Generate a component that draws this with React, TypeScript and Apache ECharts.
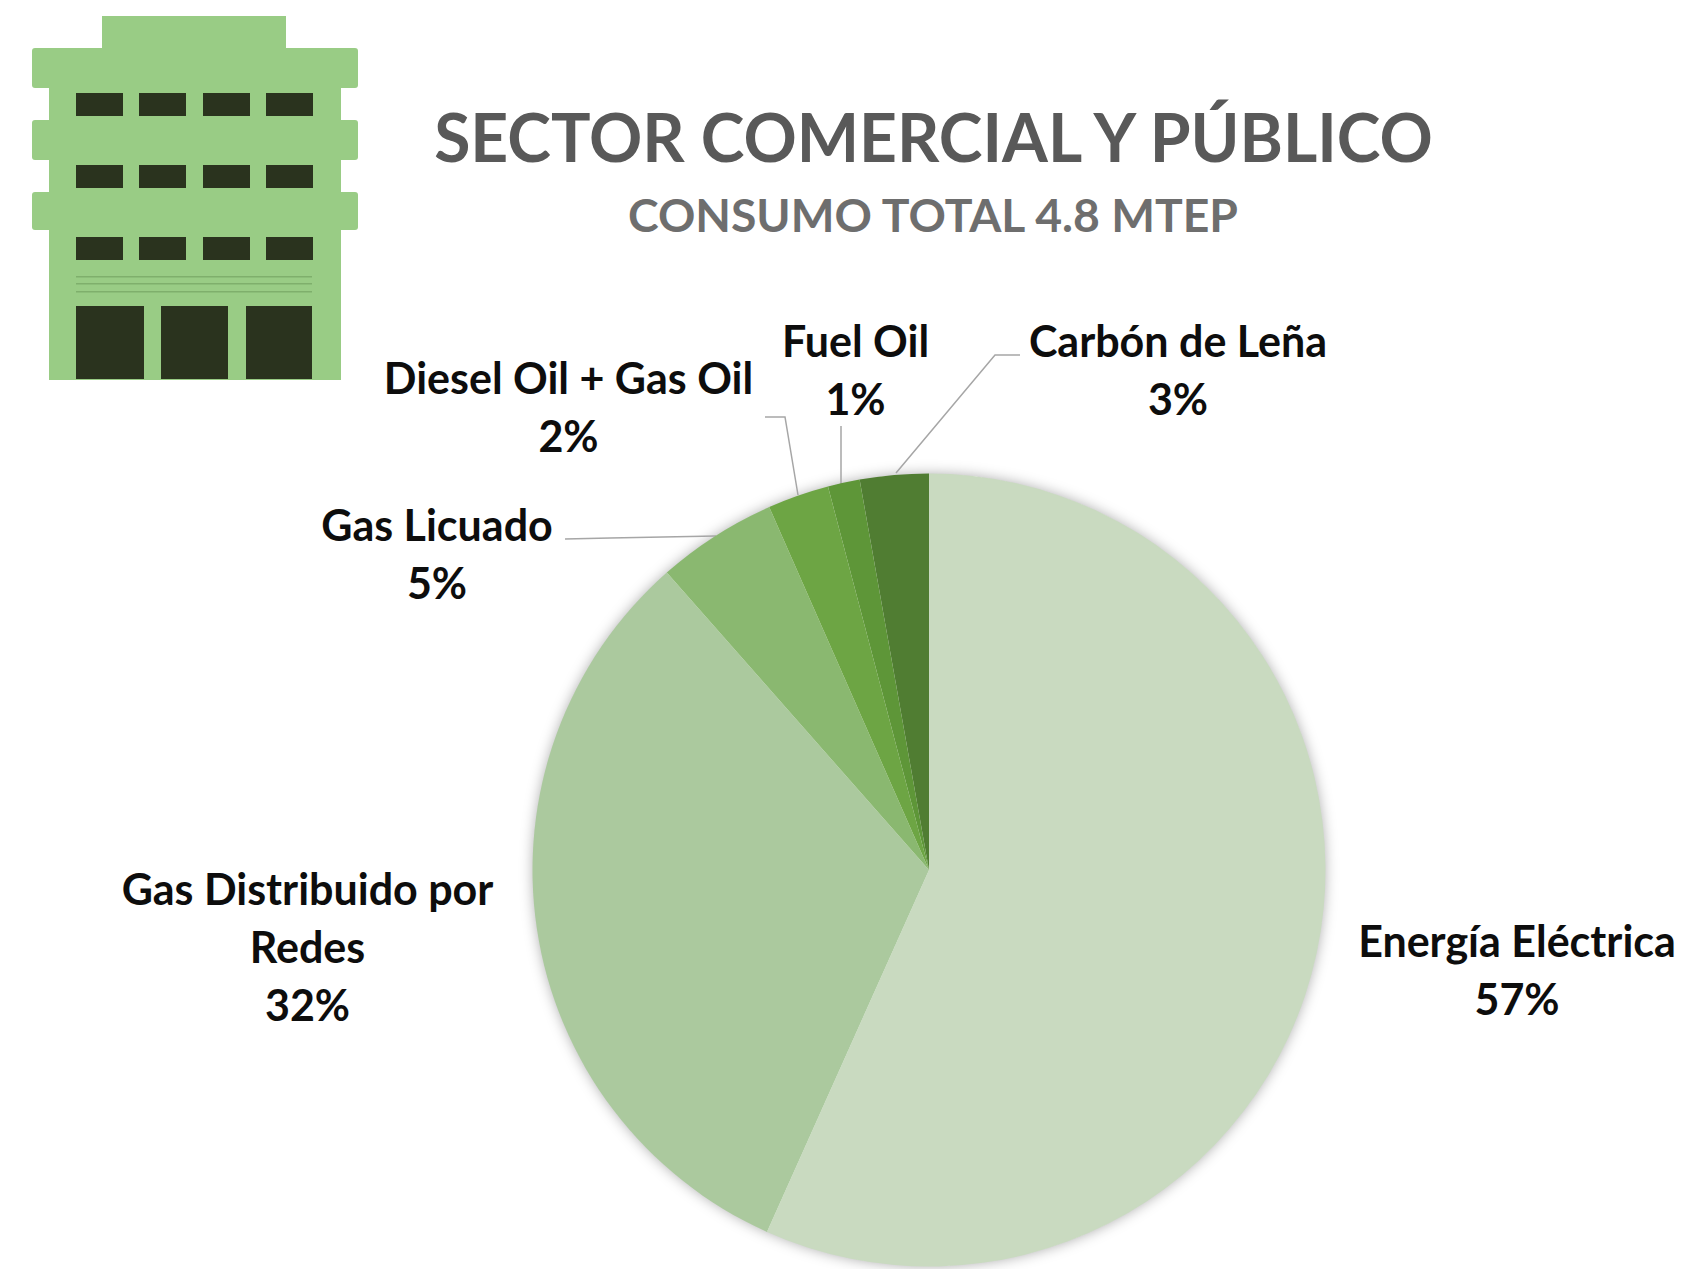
import React, { useEffect, useRef } from "react";
import * as echarts from "echarts";

const categories = ["Energía Eléctrica", "Gas Distribuido por\nRedes", "Gas Licuado", "Diesel Oil + Gas Oil", "Fuel Oil", "Carbón de Leña"];
const shares = [56.7, 31.8, 4.9, 2.5, 1.3, 2.8];
const percentLabels = ["57%", "32%", "5%", "2%", "1%", "3%"];
const colors = ["#C9DAC0", "#ABC99E", "#8AB870", "#6DA544", "#5E9638", "#507D32"];
const labelCenters = [[1517, 969.5], [307.5, 946], [437, 553.5], [568.5, 406.5], [855.5, 369.5], [1178, 369.5]];
const leaders = [
  [[565, 539], [610, 538], [716, 536]],
  [[765, 417], [785, 417], [798, 495]],
  [[841, 426], [841, 484]],
  [[1020, 355], [995, 355], [896, 473]],
];
const CX = 929, CY = 870, R = 396.5;

const rect = (x: number, y: number, w: number, h: number, fill: string, r = 0) => ({
  type: "rect", z: 1, shape: { x, y, width: w, height: h, r }, style: { fill },
});
const GREEN = "#99CC85", DARK = "#2A331E", MID = "#7FAF6C";
const windowX = [76, 139, 203, 266];
const windowY = [93, 165, 237];
const doorX = [[76, 68], [161, 67], [246, 66]];
const stripeY = [276, 283, 291];
const building = [
  rect(49, 85, 292, 295, GREEN),
  rect(102, 16, 184, 36, GREEN),
  rect(32, 48, 326, 40, GREEN, 3),
  rect(32, 120, 326, 40, GREEN, 3),
  rect(32, 192, 326, 38, GREEN, 3),
  ...windowY.flatMap((y) => windowX.map((x) => rect(x, y, 47, 23, DARK))),
  ...stripeY.map((y) => rect(76, y, 236, 1.5, MID)),
  ...doorX.map(([x, w]) => rect(x, 306, w, 73, DARK)),
];

export default function App() {
  const ref = useRef<HTMLDivElement>(null);
  useEffect(() => {
    const chart = echarts.init(ref.current!, null, { renderer: "svg" });
    chart.setOption({
      animation: false,
      backgroundColor: "#FFFFFF",
      title: [
        { text: "SECTOR COMERCIAL Y PÚBLICO", left: 928.5, top: 98, textAlign: "center",
          textStyle: { fontFamily: "Lato", fontWeight: "bold", fontSize: 66, color: "#595959" } },
        { text: "CONSUMO TOTAL 4.8 MTEP", left: 928, top: 186, textAlign: "center",
          textStyle: { fontFamily: "Lato", fontWeight: "bold", fontSize: 46.3, color: "#6E6E6E" } },
      ],
      graphic: [
        ...building,
        { type: "circle", z: 0, shape: { cx: CX, cy: CY, r: R - 1 },
          style: { fill: "#FFFFFF", shadowBlur: 14, shadowColor: "rgba(0,0,0,0.35)" } },
        ...leaders.map((points) => ({ type: "polyline", z: 1, shape: { points },
          style: { stroke: "#A6A6A6", lineWidth: 1.5, fill: "none" } })),
      ],
      series: [{
        type: "pie",
        z: 2,
        center: [CX, CY],
        radius: [0, R],
        startAngle: 90,
        clockwise: true,
        data: categories.map((name, i) => ({
          name, value: shares[i],
          itemStyle: { color: colors[i] },
        })),
        label: {
          show: true,
          position: "outside",
          formatter: (p: any) => `${p.name}\n${percentLabels[p.dataIndex]}`,
          fontFamily: "Lato", fontWeight: "bold", fontSize: 43, lineHeight: 58, color: "#0D0D0D",
          align: "center",
          width: 500,
          overflow: "none",
        },
        labelLine: { show: false },
        labelLayout: (p: any) => ({
          x: labelCenters[p.dataIndex][0], y: labelCenters[p.dataIndex][1],
          align: "center", verticalAlign: "middle",
        }),
      }],
    });
    return () => chart.dispose();
  }, []);
  return <div ref={ref} style={{ position: "absolute", left: 0, top: 0, width: 1692, height: 1269 }} />;
}
